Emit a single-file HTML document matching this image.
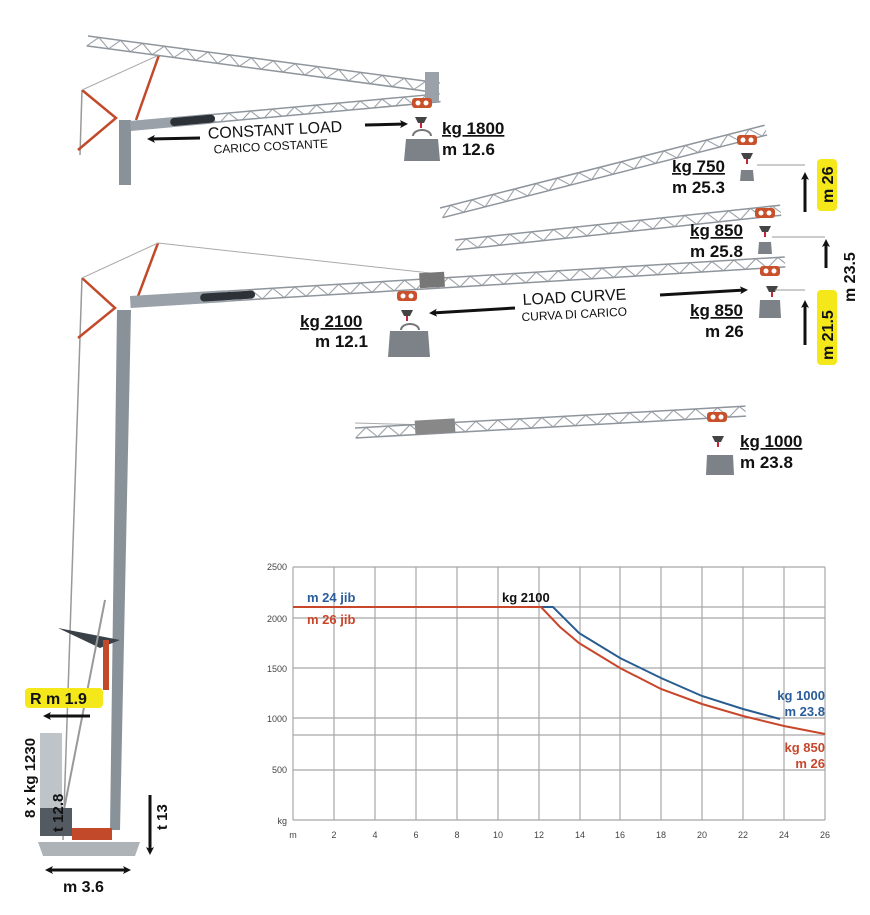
<!DOCTYPE html>
<html><head><meta charset="utf-8"><style>
html,body{margin:0;padding:0;background:#fff}
svg{display:block}
text{font-family:"Liberation Sans",sans-serif}
.b{font-weight:bold;fill:#111}
</style></head><body>
<svg width="870" height="915" viewBox="0 0 870 915" xmlns="http://www.w3.org/2000/svg">
<defs>
<pattern id="tr" width="22" height="10" patternUnits="userSpaceOnUse">
<polyline points="0,10 11,0 22,10" fill="none" stroke="#8e959c" stroke-width="1"/>
</pattern>
<marker id="ah" markerWidth="8" markerHeight="8" refX="5" refY="4" orient="auto" markerUnits="userSpaceOnUse"><path d="M0,0 L8,4 L0,8 L2,4 Z" fill="#111"/></marker>
<g id="wt"><path d="M-9,-3 a9,6 0 0 1 18,0" fill="none" stroke="#777" stroke-width="2"/><path d="M-16,0 h32 l2,22 h-36 z" fill="#7d8288"/></g>
<g id="hk"><path d="M-6,0 h12 l-3,6 h-6z" fill="#444"/><path d="M0,6 v5" stroke="#c23" stroke-width="2"/></g>
<g id="trl"><rect x="-10" y="-6" width="20" height="10" rx="3" fill="#c8502a"/><circle cx="-4" cy="-1" r="2.5" fill="#fff"/><circle cx="4" cy="-1" r="2.5" fill="#fff"/></g>
</defs>

<!-- ===== TOP CRANE ===== -->
<rect x="119" y="120" width="12" height="65" fill="#8a9299"/>
<line x1="82" y1="90" x2="80" y2="155" stroke="#999" stroke-width="1.5"/>
<polyline points="82,90 116,118 78,150" fill="none" stroke="#c24a2a" stroke-width="2.5"/>
<line x1="159" y1="55" x2="136" y2="120" stroke="#c24a2a" stroke-width="2.5"/>
<line x1="82" y1="90" x2="159" y2="55" stroke="#aaa" stroke-width="1"/>
<g transform="translate(88,36) rotate(7.6)"><rect width="355" height="10" fill="url(#tr)"/><line x1="0" y1="0" x2="355" y2="0" stroke="#8e959c" stroke-width="1.5"/><line x1="0" y1="10" x2="355" y2="10" stroke="#8e959c" stroke-width="1.5"/></g>
<g transform="translate(130,122) rotate(-5.2)"><rect width="311" height="8" fill="url(#tr)"/><line x1="0" y1="0" x2="311" y2="0" stroke="#8e959c" stroke-width="1.5"/><line x1="0" y1="8" x2="311" y2="8" stroke="#8e959c" stroke-width="1.5"/><rect x="0" y="-1" width="80" height="10" fill="#9aa1a8"/><rect x="40" y="0" width="45" height="8" rx="4" fill="#2d3238"/></g>
<rect x="425" y="72" width="14" height="30" fill="#9aa1a8"/>
<use href="#trl" x="422" y="104"/>
<use href="#hk" x="421" y="117"/>
<use href="#wt" x="422" y="139"/>
<g transform="rotate(-3 280 135)"><text x="208" y="135" font-size="16" fill="#111">CONSTANT LOAD</text><text x="213" y="150" font-size="12" fill="#111">CARICO COSTANTE</text></g>
<line x1="200" y1="138" x2="150" y2="139" stroke="#111" stroke-width="3" marker-end="url(#ah)"/>
<line x1="365" y1="125" x2="405" y2="124" stroke="#111" stroke-width="3" marker-end="url(#ah)"/>
<text x="442" y="134" font-size="17" class="b" text-decoration="underline">kg 1800</text>
<text x="442" y="155" font-size="17" class="b">m 12.6</text>

<!-- ===== RIGHT JIBS ===== -->
<g transform="translate(440,208) rotate(-14.3)"><rect width="335" height="10" fill="url(#tr)"/><line x1="0" y1="0" x2="335" y2="0" stroke="#8e959c" stroke-width="1.5"/><line x1="0" y1="10" x2="335" y2="10" stroke="#8e959c" stroke-width="1.5"/></g>
<use href="#trl" x="747" y="141"/><use href="#hk" x="747" y="153"/>
<path d="M741,170 h12 l1,11 h-14z" fill="#7d8288"/>
<line x1="757" y1="165" x2="805" y2="165" stroke="#999"/>
<g transform="translate(455,240) rotate(-6.1)"><rect width="327" height="10" fill="url(#tr)"/><line x1="0" y1="0" x2="327" y2="0" stroke="#8e959c" stroke-width="1.5"/><line x1="0" y1="10" x2="327" y2="10" stroke="#8e959c" stroke-width="1.5"/></g>
<use href="#trl" x="765" y="214"/><use href="#hk" x="765" y="226"/>
<path d="M759,242 h12 l1,12 h-14z" fill="#7d8288"/>
<line x1="772" y1="237" x2="825" y2="237" stroke="#999"/>
<text x="672" y="172" font-size="17" class="b" text-decoration="underline">kg 750</text>
<text x="672" y="193" font-size="17" class="b">m 25.3</text>
<text x="690" y="236" font-size="17" class="b" text-decoration="underline">kg 850</text>
<text x="690" y="257" font-size="17" class="b">m 25.8</text>

<!-- ===== MIDDLE CRANE ===== -->
<path d="M117,310 L131,310 L120,830 L110,830 Z" fill="#8a9299"/>
<line x1="82" y1="278" x2="63" y2="840" stroke="#999" stroke-width="1.5"/>
<polyline points="82,278 115,308 78,338" fill="none" stroke="#c24a2a" stroke-width="2.5"/>
<line x1="158" y1="243" x2="134" y2="307" stroke="#c24a2a" stroke-width="2.5"/>
<line x1="82" y1="278" x2="158" y2="243" stroke="#aaa"/>
<line x1="158" y1="243" x2="430" y2="273" stroke="#aaa"/>
<g transform="translate(130,297) rotate(-3.5)"><rect width="656" height="10" fill="url(#tr)"/><line x1="0" y1="0" x2="656" y2="0" stroke="#8e959c" stroke-width="1.5"/><line x1="0" y1="10" x2="656" y2="10" stroke="#8e959c" stroke-width="1.5"/><rect x="0" y="-1" width="95" height="12" fill="#9aa1a8"/><rect x="70" y="1" width="55" height="8" rx="4" fill="#2d3238"/><rect x="290" y="-6" width="25" height="15" fill="#777"/></g>
<use href="#trl" x="407" y="297"/><use href="#hk" x="407" y="310"/>
<path d="M401,330 a9,6 0 0 1 18,0" fill="none" stroke="#777" stroke-width="2"/>
<path d="M390,331 h38 l2,26 h-42z" fill="#7d8288"/>
<use href="#trl" x="770" y="272"/><use href="#hk" x="772" y="286"/>
<path d="M760,300 h20 l1,18 h-22z" fill="#7d8288"/>
<line x1="775" y1="290" x2="805" y2="290" stroke="#999"/>
<text x="300" y="327" font-size="17" class="b" text-decoration="underline">kg 2100</text>
<text x="315" y="347" font-size="17" class="b">m 12.1</text>
<g transform="rotate(-3 580 305)"><text x="523" y="302" font-size="16" fill="#111">LOAD CURVE</text><text x="521" y="318" font-size="12" fill="#111">CURVA DI CARICO</text></g>
<line x1="515" y1="308" x2="432" y2="313" stroke="#111" stroke-width="3" marker-end="url(#ah)"/>
<line x1="660" y1="295" x2="745" y2="290" stroke="#111" stroke-width="3" marker-end="url(#ah)"/>
<text x="690" y="316" font-size="17" class="b" text-decoration="underline">kg 850</text>
<text x="705" y="337" font-size="17" class="b">m 26</text>

<!-- vertical tags -->
<line x1="805" y1="212" x2="805" y2="175" stroke="#111" stroke-width="3" marker-end="url(#ah)"/>
<line x1="826" y1="268" x2="826" y2="242" stroke="#111" stroke-width="3" marker-end="url(#ah)"/>
<line x1="805" y1="345" x2="805" y2="303" stroke="#111" stroke-width="3" marker-end="url(#ah)"/>
<rect x="817" y="159" width="20" height="52" rx="4" fill="#f4e81a"/>
<text transform="translate(833,203) rotate(-90)" font-size="16" class="b">m 26</text>
<rect x="817" y="290" width="20" height="75" rx="4" fill="#f4e81a"/>
<text transform="translate(833,360) rotate(-90)" font-size="16" class="b">m 21.5</text>
<text transform="translate(855,302) rotate(-90)" font-size="16" class="b">m 23.5</text>

<!-- ===== BOTTOM JIB ===== -->
<line x1="355" y1="423" x2="430" y2="425" stroke="#aaa"/>
<g transform="translate(355,428) rotate(-3.2)"><rect width="391" height="10" fill="url(#tr)"/><line x1="0" y1="0" x2="391" y2="0" stroke="#8e959c" stroke-width="1.5"/><line x1="0" y1="10" x2="391" y2="10" stroke="#8e959c" stroke-width="1.5"/><rect x="60" y="-4" width="40" height="14" fill="#888"/></g>
<use href="#trl" x="717" y="418"/><use href="#hk" x="718" y="436"/>
<path d="M707,455 h26 l1,20 h-28z" fill="#7d8288"/>
<text x="740" y="447" font-size="17" class="b" text-decoration="underline">kg 1000</text>
<text x="740" y="468" font-size="17" class="b">m 23.8</text>

<!-- ===== BASE ===== -->
<path d="M58,628 L120,640 L100,648 Z" fill="#3a4047"/>
<rect x="103" y="640" width="6" height="50" fill="#c24a2a"/>
<line x1="60" y1="830" x2="105" y2="600" stroke="#999" stroke-width="2"/>
<rect x="40" y="733" width="22" height="80" fill="#bfc4c9"/>
<rect x="40" y="808" width="32" height="28" fill="#545a61"/>
<path d="M72,828 h40 v12 h-40z" fill="#c24a2a"/>
<path d="M38,842 h102 l-5,14 h-92 z" fill="#aeb3b8"/>
<rect x="25" y="688" width="78" height="20" rx="4" fill="#f4e81a"/>
<text x="30" y="704" font-size="16" class="b">R m 1.9</text>
<line x1="90" y1="716" x2="46" y2="716" stroke="#111" stroke-width="3" marker-end="url(#ah)"/>
<text transform="translate(35,818) rotate(-90)" font-size="15" class="b">8 x kg 1230</text>
<text transform="translate(63,832) rotate(-90)" font-size="15" class="b">t 12.8</text>
<text transform="translate(167,830) rotate(-90)" font-size="15" class="b">t 13</text>
<line x1="150" y1="795" x2="150" y2="852" stroke="#111" stroke-width="3" marker-end="url(#ah)"/>
<line x1="60" y1="870" x2="48" y2="870" stroke="#111" stroke-width="3" marker-end="url(#ah)"/>
<line x1="60" y1="870" x2="128" y2="870" stroke="#111" stroke-width="3" marker-end="url(#ah)"/>
<text x="63" y="892" font-size="16" class="b">m 3.6</text>

<!-- ===== CHART ===== -->
<g stroke="#a8a8a8" stroke-width="1.2">
<line x1="293" y1="567" x2="825" y2="567"/><line x1="293" y1="618" x2="825" y2="618"/>
<line x1="293" y1="607" x2="825" y2="607"/>
<line x1="293" y1="668" x2="825" y2="668"/><line x1="293" y1="718" x2="825" y2="718"/>
<line x1="293" y1="735" x2="825" y2="735"/>
<line x1="293" y1="770" x2="825" y2="770"/><line x1="293" y1="820" x2="825" y2="820"/>
<line x1="293" y1="567" x2="293" y2="820"/><line x1="334" y1="567" x2="334" y2="820"/>
<line x1="375" y1="567" x2="375" y2="820"/><line x1="416" y1="567" x2="416" y2="820"/>
<line x1="457" y1="567" x2="457" y2="820"/><line x1="498" y1="567" x2="498" y2="820"/>
<line x1="539" y1="567" x2="539" y2="820"/><line x1="580" y1="567" x2="580" y2="820"/>
<line x1="620" y1="567" x2="620" y2="820"/><line x1="661" y1="567" x2="661" y2="820"/>
<line x1="702" y1="567" x2="702" y2="820"/><line x1="743" y1="567" x2="743" y2="820"/>
<line x1="784" y1="567" x2="784" y2="820"/><line x1="825" y1="567" x2="825" y2="820"/>
</g>
<g font-size="9" fill="#444" text-anchor="end">
<text x="287" y="570">2500</text><text x="287" y="622">2000</text><text x="287" y="672">1500</text>
<text x="287" y="722">1000</text><text x="287" y="773">500</text><text x="287" y="824">kg</text>
</g>
<g font-size="9" fill="#444" text-anchor="middle">
<text x="293" y="838">m</text><text x="334" y="838">2</text><text x="375" y="838">4</text><text x="416" y="838">6</text>
<text x="457" y="838">8</text><text x="498" y="838">10</text><text x="539" y="838">12</text><text x="580" y="838">14</text>
<text x="620" y="838">16</text><text x="661" y="838">18</text><text x="702" y="838">20</text><text x="743" y="838">22</text>
<text x="784" y="838">24</text><text x="825" y="838">26</text>
</g>
<polyline points="293,607 553,607 579,633 620,658 661,678 702,696 743,709 780,719" fill="none" stroke="#2a5d8f" stroke-width="2"/>
<polyline points="293,607 541,607 560,627 579,643 620,668 661,689 702,704 743,716 784,726 825,734" fill="none" stroke="#c8462a" stroke-width="2"/>
<text x="307" y="602" font-size="13" font-weight="bold" fill="#2a5d9a">m 24 jib</text>
<text x="307" y="624" font-size="13" font-weight="bold" fill="#c8462a">m 26 jib</text>
<text x="502" y="602" font-size="13" class="b">kg 2100</text>
<g font-size="13" font-weight="bold" text-anchor="end">
<text x="825" y="700" fill="#2a5d9a">kg 1000</text><text x="825" y="716" fill="#2a5d9a">m 23.8</text>
<text x="825" y="752" fill="#c8462a">kg 850</text><text x="825" y="768" fill="#c8462a">m 26</text>
</g>
</svg>
</body></html>
